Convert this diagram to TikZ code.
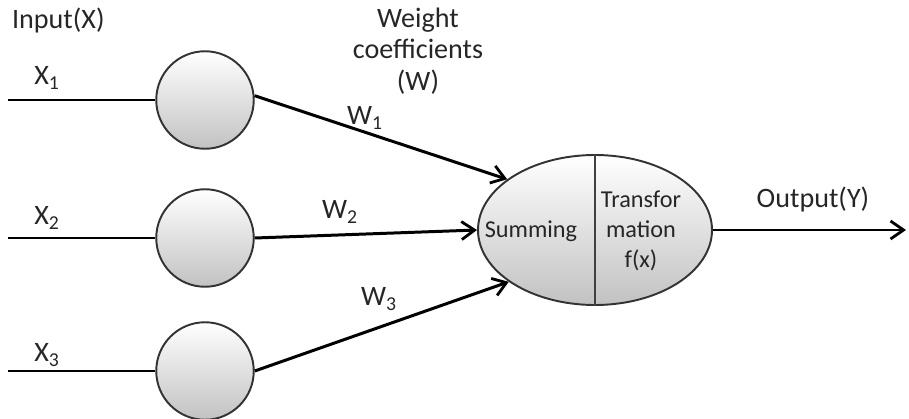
\documentclass[tikz,border=0pt]{standalone}
\usepackage{fontspec}
\setmainfont{Carlito}
\usepackage{tikz}
\usetikzlibrary{arrows.meta,shapes.geometric}

\begin{document}
\begin{tikzpicture}[
    every node/.style={font=\fontsize{16}{18}\selectfont, text=black!85},
    inp/.style={circle, draw=black!80, line width=1.1pt, minimum size=1.95cm,
                inner sep=0pt, top color=white, bottom color=black!24},
    sumnd/.style={ellipse, draw=black!80, line width=1.1pt, minimum width=4.68cm,
                  minimum height=3.0cm, inner sep=0pt, top color=white, bottom color=black!24},
    ln/.style={line width=1.7pt},
    e/.style={line width=1.7pt, -{Straight Barb[length=2.6mm, width=3.6mm, line width=1.6pt]}},
    lbl/.style={inner sep=1pt},
    inl/.style={inner sep=1pt, font=\fontsize{13.8}{17}\selectfont},
  ]
  \useasboundingbox (0,0) rectangle (18.18,8.36);
  % input neurons
  \node[inp] (c1) at (4.10, 6.36) {};
  \node[inp] (c2) at (4.10, 3.60) {};
  \node[inp] (c3) at (4.10, 0.94) {};
  \node[sumnd] (sum) at (11.90, 3.76) {};
  \coordinate (in1) at (0.16, 6.36);
  \coordinate (in2) at (0.16, 3.60);
  \coordinate (in3) at (0.16, 0.94);
  \coordinate (out) at (18.12, 3.76);
  % connectors
  \draw[ln] (in1) -- (c1);
  \draw[ln] (in2) -- (c2);
  \draw[ln] (in3) -- (c3);
  \draw[e] (c1.5) -- (sum.150);
  \draw[e] (c2.east) -- (sum.west);
  \draw[e] (c3.east) -- (sum.211);
  \draw[black!75, line width=0.8pt] (sum.north) -- (sum.south);
  \draw[e] (sum.east) -- (out);
  % labels
  \node[lbl, anchor=west] (tin) at (0.20, 7.96) {Input(X)};
  \node[lbl] (x1) at (0.94, 6.80) {X\textsubscript{1}};
  \node[lbl] (x2) at (0.94, 4.00) {X\textsubscript{2}};
  \node[lbl] (x3) at (0.94, 1.26) {X\textsubscript{3}};
  \node[lbl] (w1) at (7.30, 6.00) {W\textsubscript{1}};
  \node[lbl] (w2) at (6.80, 4.12) {W\textsubscript{2}};
  \node[lbl] (w3) at (7.58, 2.38) {W\textsubscript{3}};
  \node[lbl, align=center] (tw) at (8.36, 7.34) {Weight\\coefficients\\(W)};
  \node[lbl] (tout) at (16.26, 4.38) {Output(Y)};
  \node[inl] (tsum) at (10.62, 3.74) {Summing};
  \node[inl, align=center] (ttr) at (12.82, 3.74) {Transfor\\mation\\f(x)};
\end{tikzpicture}
\end{document}
